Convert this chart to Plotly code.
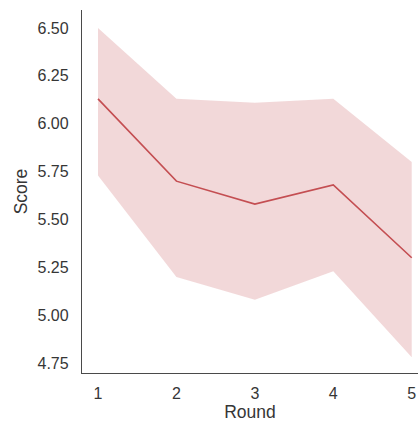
import plotly.graph_objects as go

rounds = [1, 2, 3, 4, 5]
mean_score = [6.13, 5.70, 5.58, 5.68, 5.30]
upper_ci = [6.50, 6.13, 6.11, 6.13, 5.80]
lower_ci = [5.73, 5.20, 5.08, 5.23, 4.78]
y_ticks = [4.75, 5.00, 5.25, 5.50, 5.75, 6.00, 6.25, 6.50]
y_tick_labels = ["4.75", "5.00", "5.25", "5.50", "5.75", "6.00", "6.25", "6.50"]

line_color = "#c44e52"
fill_color = "rgba(196,78,82,0.22)"

fig = go.Figure()
fig.add_trace(go.Scatter(x=rounds, y=upper_ci, mode="lines", line=dict(width=0),
                         showlegend=False, hoverinfo="skip"))
fig.add_trace(go.Scatter(x=rounds, y=lower_ci, mode="lines", line=dict(width=0),
                         fill="tonexty", fillcolor=fill_color, showlegend=False,
                         hoverinfo="skip"))
fig.add_trace(go.Scatter(x=rounds, y=mean_score, mode="lines",
                         line=dict(color=line_color, width=1.6), showlegend=False))

font = "Liberation Sans, Arial, sans-serif"
fig.update_layout(
    width=418, height=425,
    margin=dict(l=82, r=0, t=10, b=52),
    paper_bgcolor="white", plot_bgcolor="white",
    font=dict(family=font, color="#363636", size=16),
    xaxis=dict(
        range=[0.796, 5.08], tickvals=rounds, ticktext=[str(r) for r in rounds],
        showgrid=False, zeroline=False,
        showline=True, linecolor="#4a4a4a", linewidth=1.3,
        ticks="outside", ticklen=6, tickcolor="rgba(0,0,0,0)",
        title=dict(text="Round", font=dict(size=17.5, color="#363636"), standoff=4),
        tickfont=dict(size=16, color="#363636"),
    ),
    yaxis=dict(
        range=[4.698, 6.594], tickvals=y_ticks, ticktext=y_tick_labels,
        showgrid=False, zeroline=False,
        showline=True, linecolor="#4a4a4a", linewidth=1.3,
        ticks="outside", ticklen=9, tickcolor="rgba(0,0,0,0)",
        title=dict(text="Score", font=dict(size=17.5, color="#363636"), standoff=5),
        tickfont=dict(size=16, color="#363636"),
    ),
)

fig.write_html("out.html", config={"displayModeBar": False},
               post_script="document.body.style.margin='0';document.body.style.overflow='hidden';")
